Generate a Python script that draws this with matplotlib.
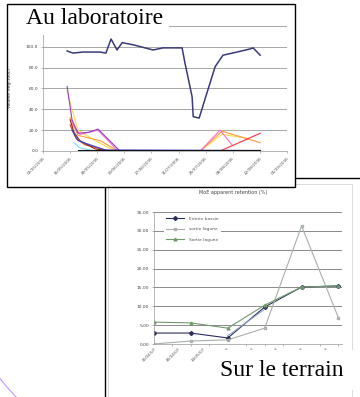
import matplotlib
matplotlib.use("Agg")
import matplotlib.pyplot as plt
from matplotlib.patches import Arc, Rectangle

W, H = 360, 397

# --- top chart (Au laboratoire) ---
lab_dates = ["02/05/2006", "16/05/2006", "30/05/2006", "13/06/2006", "27/06/2006",
             "11/07/2006", "25/07/2006", "08/08/2006", "22/08/2006", "05/09/2006"]
lab_yticks = [0, 20, 40, 60, 80, 100, 120]

# main series (blue)
lab_main_x = [0.89, 1.11, 1.48, 2.10, 2.32, 2.51, 2.73, 2.92, 3.32, 4.06, 4.43, 5.13,
              5.24, 5.50, 5.54, 5.76, 6.05, 6.35, 6.64, 7.16, 7.64, 7.75, 8.01]
lab_main_y = [96, 94, 95, 95, 94, 107.5, 97, 104, 102, 97, 99, 99,
              84, 52, 33, 31.6, 56, 81, 92, 95, 98, 99, 92]

# the small series
lab_purple_x = [0.89, 1.07, 1.29, 1.70, 2.03, 2.84, 5.8]
lab_purple_y = [62, 30, 17, 18, 21, 0, 0]
lab_yellow_x = [0.89, 1.07, 1.29, 1.92, 2.66, 5.8, 6.6, 7.6]
lab_yellow_y = [58, 40, 20, 10, 0, 0, 16, 12]
lab_orange_x = [1.00, 1.29, 2.10, 2.77, 5.8, 6.6, 8.01]
lab_orange_y = [32, 15, 10, 0, 0, 19, 8]
lab_darkred_x = [1.00, 1.14, 1.36, 1.92, 2.47]
lab_darkred_y = [30, 18, 10, 2, 0]
lab_brown_x = [1.00, 1.22, 1.55, 2.47]
lab_brown_y = [25, 12, 6, 0]
lab_blue_x = [1.07, 1.29, 1.73, 2.29, 8.0]
lab_blue_y = [20, 10, 6, 1, 0.5]
lab_cyan_x = [1.14, 1.36, 1.92]
lab_cyan_y = [8, 3, 0]
lab_black_x = [1.29, 8.0]
lab_black_y = [1, 1]
lab_navy_x = [1.36, 8.1]
lab_navy_y = [0, 0]
lab_red_x = [2.29, 6.53, 6.97, 8.01]
lab_red_y = [0, 0, 5, 17]
lab_pink_x = [1.07, 1.36, 2.03, 2.77, 5.8, 6.53, 6.97]
lab_pink_y = [26, 16, 20, 0, 0, 20, 6]

# --- bottom chart (Sur le terrain) ---
field_days = [0, 21, 42, 63, 84, 105]
field_entree = [2.9, 2.9, 1.6, 9.8, 15.1, 15.4]
field_lagune = [0.0, 0.8, 1.1, 4.2, 31.3, 6.9]
field_sortie = [5.8, 5.6, 4.2, 10.3, 15.1, 15.4]
field_labels = ["16/04/07", "30/04/07", "14/05/07", "28/05/07",
                "11/06/07", "25/06/07", "09/07/07", "23/07/07"]
field_yticks = [0, 5, 10, 15, 20, 25, 30, 35]


def box(x0, y0, x1, y1):
    return [x0 / W, 1 - y1 / H, (x1 - x0) / W, (y1 - y0) / H]


fig = plt.figure(figsize=(3.6, 3.97), dpi=100)

# bottom frame
bframe = fig.add_axes(box(105, 178, 362, 400), zorder=1)
bframe.set_xticks([]); bframe.set_yticks([])
for s in bframe.spines.values():
    s.set_linewidth(1.0)
bframe.add_patch(Rectangle((0.012, 0.015), 0.95, 0.96, transform=bframe.transAxes,
                           fill=False, edgecolor="#cccccc", lw=0.5))

ax2 = fig.add_axes(box(154, 212, 342, 344), zorder=2)
ax2.set_facecolor("none")
ax2.plot(field_days, field_entree, color="#2b2d5e", lw=0.8, marker="D", ms=2, label="Entrée bassin")
ax2.plot(field_days, field_lagune, color="#a8b0a8", lw=0.8, marker="s", ms=2,
         mfc="none", label="sortie lagune")
ax2.plot(field_days, field_sortie, color="#6f9a6a", lw=0.8, marker="^", ms=2, label="Sortie lagune")
# light blue line close to the entry series
ax2.plot(field_days[2:4], [field_entree[2] + 0.6, field_entree[3] - 0.6], color="#8fa0c8", lw=0.7)
ax2.set_xlim(0, 107)
ax2.set_ylim(0, 35)
ax2.set_yticks(field_yticks)
ax2.set_yticklabels([f"{v:.2f}" for v in field_yticks], fontsize=3.2, color="#444444")
ax2.set_xticks(range(0, 99, 14))
ax2.set_xticklabels(field_labels, rotation=45, ha="right", rotation_mode="anchor",
                    fontsize=3, color="#555555")
ax2.set_xticks([i * 10.5 for i in range(11)], minor=True)
ax2.tick_params(axis="both", which="both", length=1.5, width=0.4, color="#777777", pad=2)
ax2.tick_params(axis="x", which="major", length=0)
ax2.grid(axis="y", color="#777777", lw=0.6)
ax2.set_axisbelow(True)
for side in ["top", "right"]:
    ax2.spines[side].set_visible(False)
for side in ["left", "bottom"]:
    ax2.spines[side].set_color("#999999")
    ax2.spines[side].set_linewidth(0.5)
ax2.set_title("MoE apparent retention (%)", fontsize=3.5, color="#444444", pad=13, x=0.42)
leg = ax2.legend(loc="upper left", bbox_to_anchor=(0.04, 1.0), fontsize=3.2, frameon=True,
                 handlelength=4, labelspacing=1.4, borderpad=0.6, handletextpad=1)
leg.get_frame().set_facecolor("white")
leg.get_frame().set_edgecolor("none")
leg.get_frame().set_alpha(1)
for t in leg.get_texts():
    t.set_color("#555555")

# top frame
tframe = fig.add_axes(box(7, 4, 295, 187), zorder=3)
tframe.set_xticks([]); tframe.set_yticks([])
tframe.set_facecolor("white")
for s in tframe.spines.values():
    s.set_visible(False)
# border drawn above the label box
fig.add_artist(Rectangle((7 / W, 1 - 187 / H), 288 / W, 183 / H, transform=fig.transFigure,
                         fill=False, edgecolor="black", lw=1.0, zorder=11))

ax1 = fig.add_axes(box(43, 26, 287, 151), zorder=4)
ax1.set_facecolor("none")
small = [
    (lab_yellow_x, lab_yellow_y, "#ffd84a"),
    (lab_cyan_x, lab_cyan_y, "#77ddff"),
    (lab_orange_x, lab_orange_y, "#ff9a3c"),
    (lab_pink_x, lab_pink_y, "#ff6fd0"),
    (lab_purple_x, lab_purple_y, "#9a3cc8"),
    (lab_brown_x, lab_brown_y, "#c8401a"),
    (lab_darkred_x, lab_darkred_y, "#8a2a10"),
    (lab_blue_x, lab_blue_y, "#4040d0"),
    (lab_red_x, lab_red_y, "#ff3040"),
    (lab_black_x, lab_black_y, "#111111"),
    (lab_navy_x, lab_navy_y, "#1a1aa0"),
]
for xs, ys, c in small:
    ax1.plot(xs, ys, color=c, lw=0.8)
ax1.plot(lab_main_x, lab_main_y, color="#3a3a7a", lw=1.1)
ax1.set_xlim(0, 9)
ax1.set_ylim(0, 120)
ax1.set_yticks(lab_yticks)
# top label sits under the "Au laboratoire" box in the original
ax1.set_yticklabels([f"{v:.1f}" if v < 120 else "" for v in lab_yticks],
                    fontsize=3.2, color="#444444")
ax1.set_xticks(range(10))
ax1.set_xticklabels(lab_dates, rotation=45, ha="right", rotation_mode="anchor",
                    fontsize=3, color="#555555")
ax1.tick_params(axis="both", length=1.5, width=0.4, color="#888888", pad=2)
ax1.grid(axis="y", color="#999999", lw=0.6)
ax1.set_axisbelow(True)
for side in ["top", "right"]:
    ax1.spines[side].set_visible(False)
for side in ["left", "bottom"]:
    ax1.spines[side].set_color("#999999")
    ax1.spines[side].set_linewidth(0.5)
ax1.set_ylabel("Volume (mg/100L)", fontsize=3.2, color="#444444")
ax1.yaxis.set_label_coords((12 - 43) / 244, 0.5)

# labels on white boxes
fig.text(26 / W, 1 - 19 / H, "Au laboratoire", fontsize=17, family="Liberation Serif",
         va="center", ha="left", zorder=10,
         bbox=dict(facecolor="white", edgecolor="none", boxstyle="square,pad=0.25"))
fig.text(220 / W, 1 - 370 / H, "Sur le terrain", fontsize=17, family="Liberation Serif",
         va="center", ha="left", zorder=10,
         bbox=dict(facecolor="white", edgecolor="none", boxstyle="square,pad=0.4"))

# violet arc bottom-left
fig.add_artist(Arc((1.8, 1.6), 4.58, 4.58, theta1=205, theta2=228,
                   transform=fig.dpi_scale_trans, color="#c9a0ff", lw=0.9, zorder=0.5))

fig.savefig("out.png", dpi=100)
